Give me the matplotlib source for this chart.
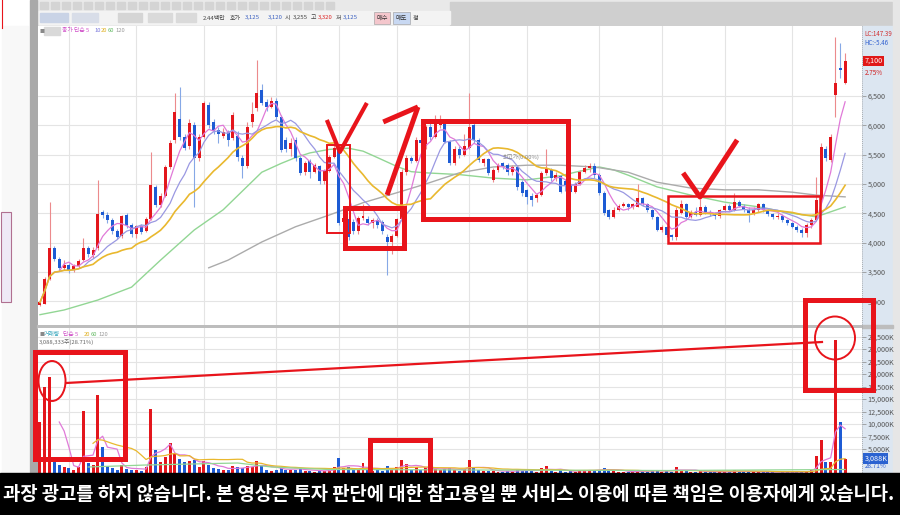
import numpy as np
import pandas as pd
import matplotlib
matplotlib.use('Agg')
import matplotlib.pyplot as plt
from matplotlib.patches import Rectangle, Ellipse

plt.rcParams['font.family'] = ['Noto Sans CJK KR', 'DejaVu Sans']

# ---------------------------------------------------------------
# daily candles (KRW)
# ---------------------------------------------------------------
opens = [2940, 2960, 3380, 3900, 3720, 3560, 3620, 3530, 3600, 3700,
         3900, 3780, 3900, 4520, 4470, 4380, 4200, 4120, 4470, 4300,
         4150, 4280, 4200, 4400, 4950, 4640, 4800, 5290, 5750, 6100,
         5800, 5650, 6000, 5450, 5800, 6350, 6050, 5920, 5820, 5880,
         5780, 5820, 5450, 5300, 6050, 6300, 6600, 6400, 6320, 6420,
         6140, 5750, 5600, 5750, 5450, 5200, 5400, 5200, 5300, 5050,
         5220, 5460, 5610, 4350, 4400, 4350, 4200, 4420, 4400, 4330,
         4380, 4350, 4100, 4010, 4120, 4400, 5200, 5450, 5400, 5750,
         5650, 5970, 5800, 6000, 6040, 5720, 5360, 5600, 5500, 5610,
         6000, 5750, 5350, 5420, 5070, 5240, 5350, 5330, 5200, 5290,
         5030, 4900, 4800, 4760, 4820, 5190, 5240, 5100, 5130, 5050,
         5000, 4870, 5000, 5200, 5280, 5300, 5150, 4850, 4550, 4440,
         4560, 4620, 4650, 4600, 4610, 4760, 4650, 4560, 4440, 4220,
         4260, 4130, 4100, 4500, 4650, 4440, 4520, 4470, 4600, 4520,
         4480, 4450, 4550, 4620, 4560, 4700, 4620, 4560, 4500, 4560,
         4650, 4560, 4480, 4440, 4460, 4380, 4330, 4270, 4220, 4160,
         4300, 4390, 4730, 5600, 5410, 6520, 6970, 6720]
closes = [2980, 3380, 3900, 3720, 3560, 3620, 3530, 3600, 3680, 3900,
          3800, 3880, 4480, 4470, 4380, 4200, 4100, 4450, 4300, 4150,
          4280, 4180, 4400, 4980, 4640, 4800, 5290, 5700, 6230, 5800,
          5620, 6040, 5440, 5800, 6380, 6000, 5900, 5850, 5880, 5750,
          6180, 5460, 5300, 5980, 6200, 6550, 6380, 6320, 6420, 6140,
          5580, 5600, 5700, 5450, 5190, 5350, 5200, 5320, 5050, 5220,
          5460, 5610, 4330, 4420, 4100, 4200, 4420, 4460, 4330, 4380,
          4300, 4200, 4010, 4120, 4400, 5200, 5450, 5400, 5750, 5700,
          5970, 5800, 6050, 6080, 5720, 5360, 5600, 5500, 5650, 5970,
          5750, 5410, 5420, 5180, 5240, 5320, 5300, 5200, 5290, 4950,
          4850, 4780, 4720, 4820, 5190, 5260, 5100, 5150, 4870, 4980,
          4870, 5000, 5200, 5280, 5290, 5150, 4850, 4500, 4440, 4560,
          4620, 4650, 4600, 4650, 4760, 4650, 4560, 4440, 4220, 4260,
          4130, 4100, 4560, 4650, 4440, 4520, 4470, 4600, 4520, 4480,
          4450, 4550, 4620, 4560, 4700, 4620, 4560, 4500, 4560, 4650,
          4560, 4480, 4440, 4460, 4380, 4330, 4270, 4220, 4160, 4300,
          4390, 4730, 5630, 5450, 5800, 6720, 6940, 7100]
highs = [3000, 3420, 4690, 3950, 3760, 3700, 3650, 3640, 3720, 4070,
         3950, 3920, 5070, 4560, 4520, 4420, 4230, 4470, 4500, 4340,
         4300, 4320, 4430, 5550, 4990, 4850, 5320, 5750, 6550, 6650,
         5850, 6100, 6050, 5850, 6420, 6400, 6100, 5980, 5950, 5920,
         6220, 5900, 5500, 6050, 6400, 7110, 6700, 6450, 6480, 6460,
         6180, 5800, 5780, 5800, 5480, 5400, 5420, 5360, 5330, 5260,
         5500, 5700, 5650, 4480, 4430, 4400, 4450, 4650, 4450, 4420,
         4420, 4380, 4150, 4150, 4420, 5250, 5500, 5480, 5800, 5800,
         6000, 6050, 6170, 6170, 6100, 5750, 5650, 5650, 5850, 6550,
         6050, 5780, 5450, 5450, 5280, 5360, 5380, 5360, 5320, 5310,
         5060, 4920, 4850, 4850, 5220, 5600, 5280, 5200, 5150, 5080,
         5030, 5030, 5240, 5330, 5350, 5350, 5180, 4880, 4580, 4600,
         4650, 4700, 4680, 4680, 5000, 4780, 4680, 4580, 4460, 4300,
         4280, 4150, 4600, 4720, 4680, 4560, 4600, 4750, 4640, 4560,
         4520, 4580, 4650, 4660, 4850, 4720, 4650, 4600, 4600, 4680,
         4680, 4580, 4500, 4500, 4490, 4400, 4350, 4300, 4250, 4330,
         4420, 5120, 5700, 5650, 5850, 7510, 7400, 7240]
lows = [2920, 2950, 3360, 3680, 3520, 3540, 3480, 3500, 3570, 3680,
        3760, 3740, 3880, 4420, 4340, 4150, 4060, 4080, 4250, 4100,
        4080, 4150, 4180, 4380, 4600, 4600, 4780, 5250, 5700, 5750,
        5580, 5600, 4600, 5400, 5780, 5950, 5850, 5700, 5780, 5650,
        5750, 5400, 5100, 5280, 5980, 6250, 6350, 6250, 6300, 6100,
        5550, 5550, 5480, 5400, 5150, 5150, 5100, 5180, 5000, 5000,
        5200, 5440, 4300, 4300, 4050, 4150, 4150, 4380, 4300, 4250,
        4250, 4150, 3450, 3800, 4100, 4380, 5150, 5350, 5380, 5650,
        5600, 5750, 5780, 5950, 5700, 5330, 5330, 5450, 5480, 5600,
        5700, 5380, 5300, 5150, 5040, 5200, 5250, 5150, 5160, 4900,
        4800, 4650, 4620, 4700, 4800, 5150, 5050, 5050, 4850, 4880,
        4850, 4850, 4980, 5180, 5200, 5100, 4820, 4470, 4400, 4420,
        4540, 4600, 4560, 4570, 4600, 4620, 4530, 4400, 4200, 4180,
        4100, 4050, 4050, 4480, 4400, 4420, 4450, 4450, 4480, 4450,
        4400, 4420, 4520, 4540, 4540, 4600, 4530, 4350, 4470, 4530,
        4530, 4450, 4400, 4400, 4350, 4300, 4250, 4180, 4100, 4100,
        4250, 4370, 4700, 5400, 5380, 6140, 6800, 6700]
# volume in thousand shares
volumes = [10400, 17400, 19400, 3000, 1800, 1500, 1200, 900, 1400, 12600,
           2200, 1800, 15800, 5400, 1600, 1200, 900, 1800, 1000, 800,
           900, 700, 1500, 13000, 4800, 2400, 3500, 6200, 4000, 3000,
           2400, 2600, 2800, 1500, 2600, 1800, 1200, 1000, 800, 900,
           1600, 1400, 1200, 1600, 1400, 2600, 1800, 900, 700, 900,
           1500, 900, 800, 900, 1100, 700, 600, 500, 700, 600,
           900, 1400, 3200, 1200, 1500, 900, 1100, 2200, 900, 700,
           800, 700, 1600, 1000, 1400, 2800, 2000, 900, 1500, 800,
           1400, 900, 1100, 900, 1000, 1200, 800, 600, 1000, 2800,
           1300, 900, 600, 700, 600, 500, 500, 600, 500, 900,
           700, 800, 600, 500, 1200, 1600, 700, 500, 800, 500,
           600, 500, 900, 700, 800, 600, 900, 1300, 800, 600,
           500, 400, 400, 400, 900, 500, 500, 600, 900, 500,
           600, 500, 1500, 900, 600, 500, 400, 700, 400, 400,
           400, 500, 500, 400, 800, 500, 400, 500, 400, 500,
           400, 400, 400, 300, 400, 400, 400, 400, 500, 600,
           900, 3600, 6800, 2500, 2400, 26800, 10400, 3088]

# averages whose window starts before the visible range ->
ma60_at = [0, 5, 12, 19, 25, 32, 38, 41, 46, 50, 53, 56, 60, 64, 67, 70, 74,
           77, 80, 87, 94, 101, 108, 111, 116, 119, 122, 128, 135, 142, 149,
           156, 161, 167]
ma60_val = [2770, 2850, 3020, 3240, 3700, 4215, 4560, 4800, 5200, 5350, 5450,
            5530, 5590, 5610, 5560, 5450, 5300, 5210, 5190, 5160, 5100, 5070,
            5140, 5200, 5290, 5240, 5150, 4950, 4810, 4690, 4610, 4500, 4440,
            4610]
ma120_at = [35, 39, 46, 53, 60, 67, 74, 80, 87, 94, 101, 108, 115, 122, 128,
            135, 142, 149, 156, 161, 167]
ma120_val = [3570, 3700, 4010, 4270, 4470, 4680, 4850, 5000, 5190, 5290, 5320,
             5320, 5290, 5200, 5030, 4930, 4900, 4900, 4860, 4810, 4780]
vma60_at = [10, 22, 41, 48, 60, 90, 130, 167]
vma60_val = [1400, 1800, 2200, 1400, 900, 800, 700, 900]

month_starts = [6, 20, 34, 49, 62, 74, 89, 101, 116, 129, 142, 156]
price_ticks = [3000, 3500, 4000, 4500, 5000, 5500, 6000, 6500]
vol_ticks = [5000, 7500, 10000, 12500, 15000, 17500, 20000, 22500, 25000, 27500]

subtitle = ('과장 광고를 하지 않습니다. 본 영상은 투자 판단에 대한 참고용일 뿐 '
            '서비스 이용에 따른 책임은 이용자에게 있습니다.')

# ---------------------------------------------------------------
W, H = 900, 515
UP, DOWN = '#e3161c', '#1d5bd4'
UP_W, DOWN_W = '#ec8a8c', '#86a8e6'
red = '#e8141b'


def rect(x0, y0, x1, y1):
    return [x0 / W, 1 - y1 / H, (x1 - x0) / W, (y1 - y0) / H]


df = pd.DataFrame({'o': opens, 'h': highs, 'l': lows, 'c': closes, 'v': volumes})
idx = np.arange(len(df))
up = df.c >= df.o
col = np.where(up, UP, DOWN)
wcol = np.where(up, UP_W, DOWN_W)

fig = plt.figure(figsize=(W / 100, H / 100), dpi=100, facecolor='white')

# ---- window chrome (pixel coordinates) ----
bg = fig.add_axes([0, 0, 1, 1])
bg.set_xlim(0, W)
bg.set_ylim(H, 0)
bg.axis('off')
bg.add_patch(Rectangle((37, 0), 856, 26, color='#e9e9e9'))
bg.add_patch(Rectangle((450, 2), 442, 23, color='#cfcfcf'))
bg.add_patch(Rectangle((37, 11), 413, 13, color='#f3f3f3'))
for x0, w, c in [(40, 28, '#c9d3e6'), (72, 26, '#d8dde8'), (118, 24, '#d5d5d5'),
                 (148, 24, '#dadada'), (176, 20, '#dadada')]:
    bg.add_patch(Rectangle((x0, 13), w, 9, color=c))
for x0 in range(40, 330, 11):
    bg.add_patch(Rectangle((x0, 2), 8, 7, color='#d4d4d4'))
top_items = [(203, '2.44백만', '#444'), (230, '호가', '#444'), (245, '3,125', '#3a5fc0'),
             (268, '3,120', '#3a5fc0'), (285, '시', '#444'), (293, '3,255', '#444'),
             (311, '고', '#444'), (318, '3,320', '#d22'), (336, '저', '#444'),
             (343, '3,125', '#3a5fc0')]
for x0, t, c in top_items:
    bg.text(x0, 18, t, fontsize=4.3, color=c, va='center')
bg.add_patch(Rectangle((374, 12), 16, 12, color='#f4c6cc', ec='#999', lw=0.4))
bg.text(382, 18, '매수', fontsize=4.5, color='#333', ha='center', va='center')
bg.add_patch(Rectangle((393, 12), 17, 12, color='#c8d8f2', ec='#999', lw=0.4))
bg.text(401.5, 18, '매도', fontsize=4.5, color='#333', ha='center', va='center')
bg.text(416, 18, '정', fontsize=4.5, color='#333', ha='center', va='center')
# left side panel
bg.plot([1.5, 1.5], [0, 28], color=red, lw=0.8)
bg.add_patch(Rectangle((2, 26), 26, 447, color='#f8f8f8'))
bg.add_patch(Rectangle((30, 0), 7, 473, color='#a9a9a9'))
bg.add_patch(Rectangle((1, 212), 10, 90, fc='#efe9f6', ec='#b07090', lw=0.8))
# right axis strip
bg.add_patch(Rectangle((862, 26), 31, 447, color='#dce6f1'))
bg.add_patch(Rectangle((893, 0), 7, 473, color='#e6e6e6'))
bg.plot([862, 862], [26, 473], ls=(0, (1, 1.5)), color='#999', lw=0.6)
# separator between the panels
bg.add_patch(Rectangle((37, 325), 856, 3, color='#bdbdbd'))

# ---------------------------------------------------------------
# price panel
ax = fig.add_axes(rect(38, 26, 862, 325))
ax.set_facecolor('white')
ax.vlines(idx, df.l, df.h, colors=wcol, lw=0.8, zorder=3)
ax.bar(idx, (df.c - df.o).abs().clip(lower=20), bottom=df[['o', 'c']].min(axis=1),
       width=0.62, color=col, zorder=4)
ax.plot(idx, df.c.rolling(5, min_periods=1).mean(), color='#e07ad8', lw=0.9, zorder=5)
ax.plot(idx, df.c.rolling(10, min_periods=1).mean(), color='#9a98e2', lw=0.9, zorder=5)
ax.plot(idx, df.c.rolling(20, min_periods=1).mean(), color='#e9b82e', lw=1.2, zorder=5)
ax.plot(ma60_at, ma60_val, color='#92d694', lw=1.0, zorder=2)
ax.plot(ma120_at, ma120_val, color='#ababab', lw=1.0, zorder=2)
ax.set_xlim(-0.41, 170.5)
ax.set_ylim(2594, 7695)
ax.set_xticks(month_starts)
ax.set_yticks(price_ticks)
ax.grid(True, color='#e4e4e4', lw=0.8)
ax.set_axisbelow(True)
ax.yaxis.tick_right()
ax.tick_params(axis='y', length=3, width=0.5, color='#888', labelsize=5.2,
               labelcolor='#555', pad=1)
ax.tick_params(axis='x', length=0, labelbottom=False)
ax.set_yticklabels([f'{t:,}' for t in price_ticks])
for s in ax.spines.values():
    s.set_visible(False)

ax.text(1.003, 0.985, 'LC:147.39', transform=ax.transAxes, fontsize=4.4, color='#d03030', va='top')
ax.text(1.003, 0.955, 'HC:-5.46', transform=ax.transAxes, fontsize=4.4, color='#3060d0', va='top')
ax.text(1.003, closes[-1], f'{closes[-1]:,}', transform=ax.get_yaxis_transform(),
        fontsize=5.2, color='white', va='center',
        bbox=dict(boxstyle='square,pad=0.15', fc='#e01818', ec='none'))
ax.text(1.003, closes[-1] - 200, '2.75%', transform=ax.get_yaxis_transform(),
        fontsize=4.6, color='#d02020', va='center')
ax.text(96, 5420, '최고가(0.00%)', fontsize=4.2, color='#888', zorder=6)

# red hand-drawn marks on the price panel (index, price)
ax.add_patch(Rectangle((59.5, 4164), 4.8, 1500, fill=False, ec=red, lw=1.4, zorder=7))
ax.add_patch(Rectangle((63.3, 3908), 12.2, 682, fill=False, ec=red, lw=3.6, zorder=7))
ax.add_patch(Rectangle((79.5, 4403), 30.0, 1672, fill=False, ec=red, lw=3.6, zorder=7))
ax.add_patch(Rectangle((130.3, 3993), 31.5, 802, fill=False, ec=red, lw=1.8, zorder=7))
ax.plot([59.5, 62.2, 67.8], [6092, 5546, 6382], color=red, lw=3.0, zorder=8,
        solid_capstyle='butt')
ax.plot([133.4, 136.9, 144.6], [5188, 4778, 5751], color=red, lw=3.6, zorder=8,
        solid_capstyle='butt')
ax.plot([72, 78.4], [4812, 6314], color=red, lw=3.6, zorder=8, solid_capstyle='butt')
ax.plot([71.2, 78.4], [6058, 6314], color=red, lw=3.6, zorder=8, solid_capstyle='butt')

# ---------------------------------------------------------------
# volume panel
av = fig.add_axes(rect(38, 328, 862, 474))
av.bar(idx, df.v, width=0.62, color=col, zorder=3)
av.plot(idx, df.v.rolling(5, min_periods=5).mean(), color='#e07ad8', lw=0.9, zorder=4)
av.plot(idx, df.v.rolling(20, min_periods=12).mean(), color='#e9b82e', lw=0.9, zorder=4)
av.plot(vma60_at, vma60_val, color='#92d694', lw=0.9, zorder=4)
av.set_xlim(-0.41, 170.5)
av.set_ylim(0, 29200)
av.set_xticks(month_starts)
av.set_yticks(vol_ticks)
av.grid(True, color='#e4e4e4', lw=0.8)
av.set_axisbelow(True)
av.yaxis.tick_right()
av.tick_params(axis='y', length=3, width=0.5, color='#888', labelsize=5.2,
               labelcolor='#555', pad=1)
av.tick_params(axis='x', length=0, labelbottom=False)
av.set_yticklabels([f'{t:,}K' for t in vol_ticks])
for s in av.spines.values():
    s.set_visible(False)
av.text(1.003, volumes[-1], f'{volumes[-1]:,}K', transform=av.get_yaxis_transform(),
        fontsize=5.2, color='white', va='center',
        bbox=dict(boxstyle='square,pad=0.15', fc='#2a62d0', ec='none'))
av.text(1.003, volumes[-1] - 1500, '28.71%', transform=av.get_yaxis_transform(),
        fontsize=4.6, color='#3060d0', va='center')

av.add_patch(Rectangle((-1.0, 3000), 18.6, 21400, fill=False, ec=red, lw=3.6,
                       zorder=7, clip_on=False))
av.add_patch(Rectangle((158.7, 16800), 14.1, 18000, fill=False, ec=red, lw=3.6,
                       zorder=7, clip_on=False))
av.add_patch(Rectangle((68.5, -400), 12.4, 7200, fill=False, ec=red, lw=3.6,
                       zorder=7, clip_on=False))
av.add_patch(Ellipse((2.5, 18600), 5.6, 8000, fill=False, ec=red, lw=1.4,
                     zorder=7, clip_on=False))
av.add_patch(Ellipse((164.9, 27200), 8.3, 8600, fill=False, ec=red, lw=1.4,
                     zorder=7, clip_on=False))
av.plot([5.4, 162.2], [18200, 26400], color=red, lw=1.6, zorder=7, clip_on=False)

# ---- overlay: legends and subtitle (pixel coordinates) ----
top = fig.add_axes([0, 0, 1, 1])
top.set_xlim(0, W)
top.set_ylim(H, 0)
top.axis('off')
top.text(39, 31, '■', fontsize=3.6, color='#888', va='center')
top.add_patch(Rectangle((44, 27), 16, 8, color='#d9d9d9'))
legend_p = [(62, '종가 단순 5', '#d050c8'), (94, '10', '#7a78dc'), (101, '20', '#e0b020'),
            (108, '60', '#66bb66'), (115, '120', '#999999')]
for x0, t, c in legend_p:
    top.text(x0, 31, t, fontsize=4.2, color=c, va='center')
top.text(39, 334, '■', fontsize=3.6, color='#888', va='center')
legend_v = [(44, '거래량', '#2aa0b8'), (63, '단순 5', '#d050c8'), (84, '20', '#e0b020'),
            (91, '60', '#66bb66'), (98, '120', '#999999')]
for x0, t, c in legend_v:
    top.text(x0, 334, t, fontsize=4.2, color=c, va='center')
top.text(39, 342, '3,088,333주(28.71%)', fontsize=4.2, color='#666', va='center')

top.add_patch(Rectangle((0, 473), W, 42, color='black'))
top.text(449, 494, subtitle, fontsize=13.55, fontweight='bold', color='white',
         ha='center', va='center')

fig.savefig('out.png', dpi=100)
